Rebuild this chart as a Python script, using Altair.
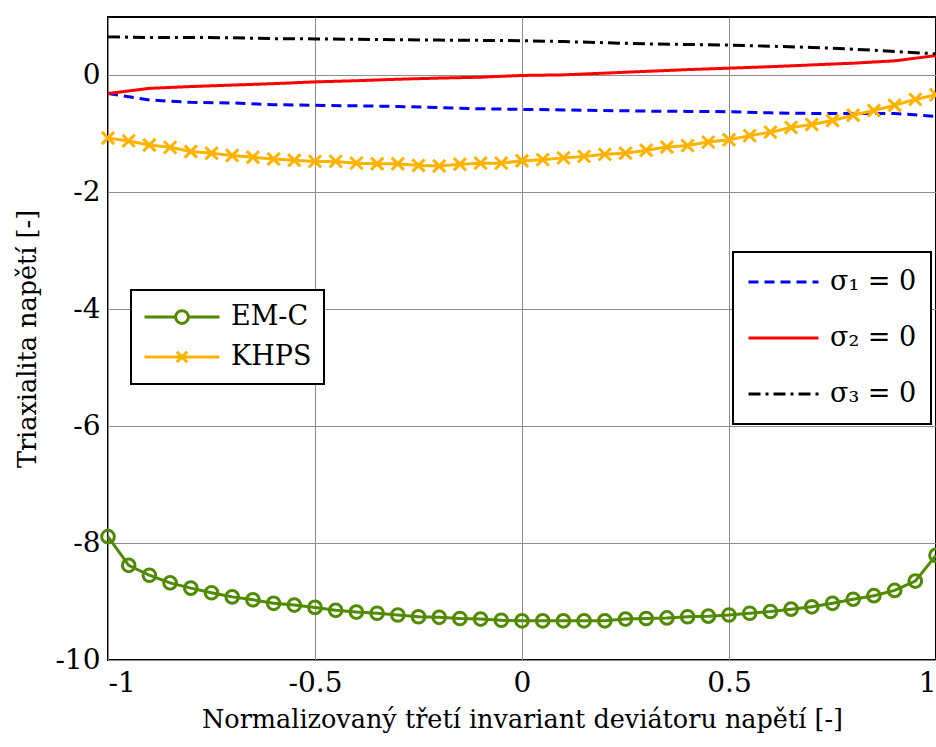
import altair as alt
import pandas as pd

# ---- data ----
x_marks = [-1.0, -0.95, -0.9, -0.85, -0.8, -0.75, -0.7, -0.65, -0.6, -0.55, -0.5,
           -0.45, -0.4, -0.35, -0.3, -0.25, -0.2, -0.15, -0.1, -0.05, 0.0,
           0.05, 0.1, 0.15, 0.2, 0.25, 0.3, 0.35, 0.4, 0.45, 0.5,
           0.55, 0.6, 0.65, 0.7, 0.75, 0.8, 0.85, 0.9, 0.95, 1.0]

em_c = [-7.89, -8.38, -8.55, -8.68, -8.77, -8.85, -8.92, -8.97, -9.03, -9.06, -9.10,
        -9.15, -9.18, -9.20, -9.23, -9.26, -9.27, -9.29, -9.30, -9.32, -9.33,
        -9.33, -9.33, -9.33, -9.33, -9.30, -9.29, -9.28, -9.26, -9.25, -9.23,
        -9.20, -9.17, -9.13, -9.09, -9.03, -8.96, -8.90, -8.81, -8.65, -8.21]

khps = [-1.07, -1.12, -1.19, -1.23, -1.30, -1.33, -1.37, -1.40, -1.43, -1.45, -1.47,
        -1.47, -1.50, -1.51, -1.51, -1.54, -1.55, -1.52, -1.50, -1.50, -1.46,
        -1.44, -1.41, -1.385, -1.35, -1.33, -1.28, -1.225, -1.20, -1.14, -1.10,
        -1.03, -0.97, -0.89, -0.84, -0.77, -0.68, -0.60, -0.51, -0.41, -0.33]

x_sig = [-1.0, -0.9, -0.8, -0.7, -0.6, -0.5, -0.4, -0.3, -0.2, -0.1, 0.0,
         0.1, 0.2, 0.3, 0.4, 0.5, 0.6, 0.7, 0.8, 0.9, 1.0]
sig1 = [-0.31, -0.42, -0.46, -0.47, -0.50, -0.51, -0.52, -0.53, -0.55, -0.57, -0.58,
        -0.59, -0.60, -0.61, -0.615, -0.62, -0.64, -0.65, -0.65, -0.65, -0.70]
sig2 = [-0.31, -0.22, -0.19, -0.165, -0.14, -0.11, -0.09, -0.065, -0.045, -0.03, 0.0,
        0.01, 0.04, 0.07, 0.10, 0.125, 0.15, 0.18, 0.21, 0.25, 0.34]
sig3 = [0.66, 0.65, 0.65, 0.645, 0.63, 0.625, 0.62, 0.61, 0.605, 0.60, 0.595,
        0.58, 0.56, 0.54, 0.53, 0.52, 0.50, 0.48, 0.45, 0.41, 0.37]

series_names = ["EM-C", "KHPS"]
series_colors = ["#4f8a00", "#ffb300"]
sig_names = ["σ₁ = 0", "σ₂ = 0", "σ₃ = 0"]
sig_colors = ["#0000ff", "#ff0000", "#000000"]
sig_dash = [[10, 6], [1, 0], [12, 5, 3, 5]]

x_ticks = [-1, -0.5, 0, 0.5, 1]
y_ticks = [-10, -8, -6, -4, -2, 0]

x_title = "Normalizovaný třetí invariant deviátoru napětí [-]"
y_title = "Triaxialita napětí [-]"

# ---- tables ----
df_m = pd.concat([
    pd.DataFrame({"x": x_marks, "y": em_c, "series": "EM-C"}),
    pd.DataFrame({"x": x_marks, "y": khps, "series": "KHPS"}),
], ignore_index=True)
df_s = pd.concat([
    pd.DataFrame({"x": x_sig, "y": sig1, "case": sig_names[0]}),
    pd.DataFrame({"x": x_sig, "y": sig2, "case": sig_names[1]}),
    pd.DataFrame({"x": x_sig, "y": sig3, "case": sig_names[2]}),
], ignore_index=True)

FONT = "DejaVu Serif"
X_PATH = "M-1,-1L1,1M-1,1L1,-1"
LEG_CIRCLE = "M-1,0H-0.17M0.17,0H1M-0.17,0A0.17,0.17 0 1,1 0.17,0A0.17,0.17 0 1,1 -0.17,0"
LEG_X = "M-1,0H1M-0.14,-0.14L0.14,0.14M-0.14,0.14L0.14,-0.14"

xenc = alt.X("x:Q", scale=alt.Scale(domain=[-1, 1], nice=False),
             axis=alt.Axis(values=x_ticks, title=x_title, labelExpr="'' + datum.value",
                           labelPadding=9, titlePadding=10))
yenc = alt.Y("y:Q", scale=alt.Scale(domain=[-10, 1], nice=False),
             axis=alt.Axis(values=y_ticks, title=y_title, labelExpr="'' + datum.value",
                           labelPadding=8, titlePadding=14))

mscale = alt.Scale(domain=series_names, range=series_colors)
sscale = alt.Scale(domain=sig_names, range=sig_colors)

lines_m = alt.Chart(df_m).mark_line(strokeWidth=3).encode(
    x=xenc, y=yenc, color=alt.Color("series:N", scale=mscale, legend=None))

pts_m = alt.Chart(df_m).mark_point(filled=False, strokeWidth=3, opacity=1).encode(
    x=xenc, y=yenc,
    color=alt.Color("series:N", scale=mscale, legend=None),
    shape=alt.Shape("series:N", scale=alt.Scale(domain=series_names, range=["circle", X_PATH]), legend=None),
    size=alt.Size("series:N", scale=alt.Scale(domain=series_names, range=[160, 150]), legend=None))

leg_s = alt.Legend(orient="none", legendX=625, legendY=235, title=None,
                   symbolType="stroke", symbolSize=4900, symbolStrokeWidth=3,
                   clipHeight=32, rowPadding=24, padding=14, labelOffset=10,
                   labelFont=FONT, labelFontSize=27, labelColor="black",
                   fillColor="white", strokeColor="black")
lines_s = alt.Chart(df_s).mark_line(strokeWidth=3).encode(
    x=xenc, y=yenc,
    color=alt.Color("case:N", scale=sscale, legend=leg_s),
    strokeDash=alt.StrokeDash("case:N", scale=alt.Scale(domain=sig_names, range=sig_dash), legend=leg_s))

leg_m = alt.Legend(orient="none", legendX=23, legendY=273, title=None,
                   symbolSize=5625, symbolStrokeWidth=3,
                   clipHeight=30, rowPadding=10, padding=12, labelOffset=10,
                   labelFont=FONT, labelFontSize=27, labelColor="black",
                   fillColor="white", strokeColor="black")
leg_layer = alt.Chart(df_m).transform_filter("false").mark_point(filled=False, strokeWidth=3, opacity=1).encode(
    x=xenc, y=yenc,
    color=alt.Color("series:N", scale=mscale, legend=leg_m),
    shape=alt.Shape("series:N", scale=alt.Scale(domain=series_names, range=[LEG_CIRCLE, LEG_X]), legend=leg_m))

chart = alt.layer(lines_s, lines_m, pts_m, leg_layer).resolve_scale(
    color="independent", shape="independent", strokeDash="independent", size="independent"
).properties(
    width=828, height=643,
    autosize=alt.AutoSizeParams(type="none"),
    padding={"left": 108, "top": 17, "right": 0, "bottom": 87},
    background="white",
).configure_view(
    stroke="black", strokeWidth=2
).configure_axis(
    domain=False, ticks=False, grid=True, gridColor="#8c8c8c", gridWidth=1,
    labelFont=FONT, labelFontSize=28, labelColor="black",
    titleFont=FONT, titleFontSize=25.5, titleColor="black", titleFontWeight="normal",
).configure_legend(
    strokeWidth=2
)

chart.save("out.html", embed_options={"renderer": "svg", "actions": False})
